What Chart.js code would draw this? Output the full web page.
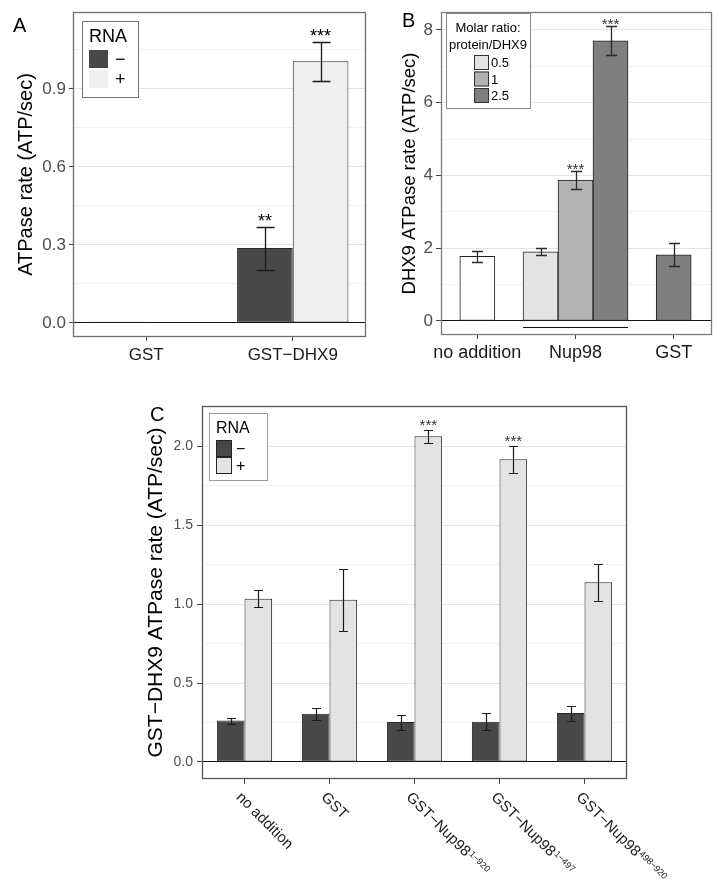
<!DOCTYPE html>
<html>
<head>
<meta charset="utf-8">
<script src="https://cdn.jsdelivr.net/npm/chart.js@4.4.1/dist/chart.umd.min.js"></script>
<style>
  html, body { margin:0; padding:0; background:#fff; }
  body { width:727px; height:887px; position:relative; overflow:hidden; font-family:"Liberation Sans", Arial, sans-serif; }
  canvas { position:absolute; }
  .panel-letter { position:absolute; font-size:20px; line-height:20px; color:#000; }
</style>
</head>
<body>
<canvas id="chartA" width="370" height="380" style="left:0;top:0"></canvas>
<canvas id="chartB" width="357" height="380" style="left:370px;top:0"></canvas>
<canvas id="chartC" width="587" height="507" style="left:140px;top:380px"></canvas>
<div class="panel-letter" style="left:13px;top:15px">A</div>
<div class="panel-letter" style="left:402px;top:10px">B</div>
<div class="panel-letter" style="left:150px;top:404px">C</div>
<script>
// ---------------- Panel A data ----------------
const aCategories = ['GST', 'GST\u2212DHX9'];
const aRnaLabels = ['\u2212', '+'];
const aMinus = [0.005, 0.288];
const aMinusLow = [null, 0.204];
const aMinusHigh = [null, 0.368];
const aPlus = [0.002, 1.007];
const aPlusLow = [null, 0.932];
const aPlusHigh = [null, 1.082];
const aMinusStars = ['', '**'];
const aPlusStars = ['', '***'];
const aYTicks = [0.0, 0.3, 0.6, 0.9];

// ---------------- Panel B data ----------------
const bCategories = ['no addition', 'Nup98', 'GST'];
const bRatioLabels = ['0.5', '1', '2.5'];
const bControl = [1.78, null, 1.82];
const bControlLow = [1.62, null, 1.51];
const bControlHigh = [1.93, null, 2.15];
const bRatio05 = [null, 1.90, null];
const bRatio05Low = [null, 1.81, null];
const bRatio05High = [null, 2.00, null];
const bRatio1 = [null, 3.87, null];
const bRatio1Low = [null, 3.62, null];
const bRatio1High = [null, 4.12, null];
const bRatio25 = [null, 7.70, null];
const bRatio25Low = [null, 7.31, null];
const bRatio25High = [null, 8.10, null];
const bRatio1Stars = ['', '***', ''];
const bRatio25Stars = ['', '***', ''];
const bYTicks = [0, 2, 4, 6, 8];

// ---------------- Panel C data ----------------
const cCategories = ['no addition', 'GST', 'GST\u2212Nup98', 'GST\u2212Nup98', 'GST\u2212Nup98'];
const cCategorySup = ['', '', '1\u2212920', '1\u2212497', '498\u2212920'];
const cRnaLabels = ['\u2212', '+'];
const cMinus = [0.262, 0.306, 0.253, 0.255, 0.310];
const cMinusLow = [0.243, 0.268, 0.205, 0.203, 0.262];
const cMinusHigh = [0.278, 0.344, 0.295, 0.308, 0.357];
const cPlus = [1.034, 1.027, 2.063, 1.918, 1.139];
const cPlusLow = [0.981, 0.831, 2.023, 1.833, 1.019];
const cPlusHigh = [1.089, 1.224, 2.105, 2.002, 1.257];
const cPlusStars = ['', '', '***', '***', ''];
const cYTicks = [0.0, 0.5, 1.0, 1.5, 2.0];

// ---------------- helpers ----------------
const FONT = '"Liberation Sans", Arial, sans-serif';
Chart.defaults.font.family = FONT;
Chart.defaults.animation = false;

function makeYScale(cfg) {
  const majors = cfg.ticks;
  const step = majors[1] - majors[0];
  const isMajor = v => majors.some(m => Math.abs(m - v) < 1e-9);
  return {
    type: 'linear', min: cfg.min, max: cfg.max,
    afterBuildTicks(scale) {
      const vals = majors.slice();
      majors.forEach(m => { const v = m + step / 2; if (v < cfg.max) vals.push(v); });
      vals.sort((a, b) => a - b);
      scale.ticks = vals.map(v => ({ value: v }));
    },
    afterFit(scale) { scale.width = cfg.width; },
    border: { display: false },
    grid: {
      drawTicks: true, tickLength: cfg.tickLength, lineWidth: 1,
      color: c => !c.tick ? 'rgba(0,0,0,0)' :
        (Math.abs(c.tick.value) < 1e-9 ? '#111' : (isMajor(c.tick.value) ? '#e4e4e4' : '#f2f2f2')),
      tickColor: c => (c.tick && isMajor(c.tick.value)) ? '#444' : 'rgba(0,0,0,0)'
    },
    ticks: {
      autoSkip: false, padding: cfg.padding, color: '#4d4d4d',
      font: { size: cfg.fontSize, lineHeight: 1 },
      callback: v => isMajor(v) ? v.toFixed(cfg.decimals) : ''
    },
    title: {
      display: true, text: cfg.title, color: '#000',
      font: { size: cfg.titleSize, lineHeight: 1.2 },
      padding: { top: cfg.titlePad, bottom: 0 }
    }
  };
}

const errorBars = {
  id: 'errorBars',
  afterDatasetsDraw(chart, args, o) {
    const ctx = chart.ctx, ys = chart.scales.y;
    ctx.save();
    chart.data.datasets.forEach((ds, di) => {
      if (!ds.errLow) return;
      const meta = chart.getDatasetMeta(di);
      meta.data.forEach((bar, i) => {
        const lo = ds.errLow[i], hi = ds.errHigh[i];
        if (lo == null || hi == null) return;
        const x = Math.round(bar.x) + 0.5;
        const yl = Math.round(ys.getPixelForValue(lo)) + 0.5;
        const yh = Math.round(ys.getPixelForValue(hi)) + 0.5;
        ctx.strokeStyle = o.color; ctx.lineWidth = o.lineWidth;
        ctx.beginPath();
        ctx.moveTo(x, yl); ctx.lineTo(x, yh);
        ctx.moveTo(x - o.cap / 2, yh); ctx.lineTo(x + o.cap / 2, yh);
        ctx.moveTo(x - o.cap / 2, yl); ctx.lineTo(x + o.cap / 2, yl);
        ctx.stroke();
        if (ds.stars && ds.stars[i]) {
          ctx.fillStyle = o.starColor;
          ctx.font = o.starSize + 'px ' + FONT;
          ctx.textAlign = 'center'; ctx.textBaseline = 'alphabetic';
          ctx.fillText(ds.stars[i], bar.x, yh + o.starDy);
        }
      });
    });
    ctx.restore();
  }
};

const framePlugin = {
  id: 'frame',
  afterDatasetsDraw(chart, args, o) {
    const { left, top, right, bottom } = chart.chartArea;
    const ctx = chart.ctx;
    ctx.save();
    ctx.strokeStyle = o.color; ctx.lineWidth = o.lineWidth;
    ctx.strokeRect(Math.round(left) + 0.5, Math.round(top) + 0.5, Math.round(right - left) - 1, Math.round(bottom - top) - 1);
    ctx.restore();
  }
};

const boxLegend = {
  id: 'boxLegend',
  afterDraw(chart, args, o) {
    const ctx = chart.ctx, ca = chart.chartArea;
    const x0 = Math.round(ca.left + o.x), y0 = Math.round(ca.top + o.y);
    ctx.save();
    ctx.fillStyle = '#fff'; ctx.fillRect(x0, y0, o.w, o.h);
    ctx.strokeStyle = o.borderColor; ctx.lineWidth = 1;
    ctx.strokeRect(x0 + 0.5, y0 + 0.5, o.w, o.h);
    ctx.fillStyle = '#000';
    ctx.font = o.titleSize + 'px ' + FONT;
    ctx.textBaseline = 'middle'; ctx.textAlign = o.titleAlign;
    o.title.forEach((t, i) => ctx.fillText(t, x0 + o.titleX, y0 + o.titleY + i * o.titleLineH));
    const items = chart.data.datasets.filter(d => d.inLegend !== false);
    items.forEach((d, i) => {
      const sy = y0 + o.itemY + i * o.itemStep;
      ctx.fillStyle = Array.isArray(d.backgroundColor) ? d.backgroundColor[0] : d.backgroundColor;
      ctx.fillRect(x0 + o.swX, sy, o.swW, o.swH);
      if (o.swBorder) {
        ctx.strokeStyle = o.swBorder; ctx.lineWidth = 1;
        ctx.strokeRect(x0 + o.swX + 0.5, sy + 0.5, o.swW - 1, o.swH - 1);
      }
      ctx.fillStyle = '#000';
      ctx.font = o.labelSize + 'px ' + FONT;
      ctx.textAlign = 'left'; ctx.textBaseline = 'middle';
      ctx.fillText(d.label, x0 + o.labelX, sy + o.swH / 2 + 1);
    });
    ctx.restore();
  }
};

const groupLine = {
  id: 'groupLine',
  afterDatasetsDraw(chart, args, o) {
    let x0 = Infinity, x1 = -Infinity;
    o.datasets.forEach(di => {
      const b = chart.getDatasetMeta(di).data[o.index];
      x0 = Math.min(x0, b.x - b.width / 2); x1 = Math.max(x1, b.x + b.width / 2);
    });
    const y = Math.round(chart.scales.y.getPixelForValue(0) + o.dy) + 0.5;
    const ctx = chart.ctx;
    ctx.save(); ctx.strokeStyle = '#111'; ctx.lineWidth = 1;
    ctx.beginPath(); ctx.moveTo(x0, y); ctx.lineTo(x1, y); ctx.stroke();
    ctx.restore();
  }
};

const rotLabels = {
  id: 'rotLabels',
  afterDraw(chart, args, o) {
    const ctx = chart.ctx, xs = chart.scales.x, ca = chart.chartArea;
    o.labels.forEach((lab, i) => {
      const px = xs.getPixelForValue(i);
      ctx.save();
      ctx.translate(px + o.dx, ca.bottom + o.dy);
      ctx.rotate(Math.PI / 4);
      ctx.fillStyle = '#1a1a1a';
      ctx.textAlign = 'left'; ctx.textBaseline = 'middle';
      ctx.font = o.size + 'px ' + FONT;
      ctx.fillText(lab, 0, 0);
      if (o.sup[i]) {
        const w = ctx.measureText(lab).width;
        ctx.font = o.supSize + 'px ' + FONT;
        ctx.fillText(o.sup[i], w + 1, o.supDy);
      }
      ctx.restore();
    });
  }
};

// ---------------- Chart A ----------------
new Chart(document.getElementById('chartA'), {
  type: 'bar',
  data: {
    labels: aCategories,
    datasets: [
      { label: aRnaLabels[0], data: aMinus, errLow: aMinusLow, errHigh: aMinusHigh, stars: aMinusStars,
        backgroundColor: '#484848', borderColor: '#262626', borderWidth: 1, borderSkipped: false,
        categoryPercentage: 0.76, barPercentage: 1 },
      { label: aRnaLabels[1], data: aPlus, errLow: aPlusLow, errHigh: aPlusHigh, stars: aPlusStars,
        backgroundColor: '#efefef', borderColor: '#262626', borderWidth: 1, borderSkipped: false,
        categoryPercentage: 0.76, barPercentage: 1 }
    ]
  },
  options: {
    responsive: false, animation: false, devicePixelRatio: 1,
    layout: { padding: { left: 0, right: 4, top: 12, bottom: 0 } },
    scales: {
      x: {
        type: 'category', offset: true,
        afterFit(s) { s.height = 43; },
        border: { display: false },
        grid: { drawOnChartArea: false, offset: false, drawTicks: true, tickLength: 4, tickColor: '#444' },
        ticks: { autoSkip: false, maxRotation: 0, minRotation: 0, padding: 4, color: '#1a1a1a', font: { size: 17 } }
      },
      y: makeYScale({ ticks: aYTicks, min: -0.054, max: 1.196, width: 73, tickLength: 4, padding: 3,
        fontSize: 17, decimals: 1, title: 'ATPase rate (ATP/sec)', titleSize: 20, titlePad: 14 })
    },
    plugins: {
      legend: { display: false }, tooltip: { enabled: false },
      errorBars: { color: '#1a1a1a', lineWidth: 1.3, cap: 18, starColor: '#000', starSize: 18, starDy: -1 },
      frame: { color: '#6e6e6e', lineWidth: 1.3 },
      boxLegend: { x: 9, y: 9, w: 56, h: 76, title: ['RNA'], titleSize: 18, titleAlign: 'left', titleX: 7, titleY: 16,
        titleLineH: 0, swX: 7, swW: 19, swH: 18, itemY: 29, itemStep: 20, labelX: 33, labelSize: 18,
        borderColor: '#777', swBorder: null }
    }
  },
  plugins: [errorBars, framePlugin, boxLegend]
});

// ---------------- Chart B ----------------
const toXY = arr => arr.map((v, i) => ({ x: i + 1, y: v }));
new Chart(document.getElementById('chartB'), {
  type: 'bar',
  data: {
    datasets: [
      { label: 'control', inLegend: false, data: toXY(bControl), errLow: bControlLow, errHigh: bControlHigh,
        backgroundColor: ['#ffffff', '#ffffff', '#7f7f7f'], borderColor: '#222', borderWidth: 1, borderSkipped: false,
        barThickness: 35, skipNull: true },
      { label: bRatioLabels[0], data: toXY(bRatio05), errLow: bRatio05Low, errHigh: bRatio05High,
        backgroundColor: '#e3e3e3', borderColor: '#222', borderWidth: 1, borderSkipped: false,
        barThickness: 35, skipNull: true },
      { label: bRatioLabels[1], data: toXY(bRatio1), errLow: bRatio1Low, errHigh: bRatio1High, stars: bRatio1Stars,
        backgroundColor: '#b2b2b2', borderColor: '#222', borderWidth: 1, borderSkipped: false,
        barThickness: 35, skipNull: true },
      { label: bRatioLabels[2], data: toXY(bRatio25), errLow: bRatio25Low, errHigh: bRatio25High, stars: bRatio25Stars,
        backgroundColor: '#7f7f7f', borderColor: '#222', borderWidth: 1, borderSkipped: false,
        barThickness: 35, skipNull: true }
    ]
  },
  options: {
    responsive: false, animation: false, devicePixelRatio: 1,
    layout: { padding: { left: 0, right: 15, top: 12, bottom: 0 } },
    scales: {
      x: {
        type: 'linear', min: 0.63, max: 3.39, offset: false,
        afterBuildTicks(scale) { scale.ticks = bCategories.map((c, i) => ({ value: i + 1 })); },
        afterFit(s) { s.height = 45; },
        border: { display: false },
        grid: { drawOnChartArea: false, offset: false, drawTicks: true, tickLength: 4, tickColor: '#444' },
        ticks: { autoSkip: false, maxRotation: 0, minRotation: 0, padding: 3, color: '#1a1a1a', font: { size: 18 },
          callback: v => bCategories[Math.round(v) - 1] || '' }
      },
      y: makeYScale({ ticks: bYTicks, min: -0.385, max: 8.49, width: 71, tickLength: 5, padding: 3,
        fontSize: 17, decimals: 0, title: 'DHX9 ATPase rate (ATP/sec)', titleSize: 18.5, titlePad: 29 })
    },
    plugins: {
      legend: { display: false }, tooltip: { enabled: false },
      errorBars: { color: '#2a2a2a', lineWidth: 1.3, cap: 11, starColor: '#333', starSize: 15, starDy: 2 },
      frame: { color: '#7a7a7a', lineWidth: 1.3 },
      groupLine: { index: 1, datasets: [1, 2, 3], dy: 6 },
      boxLegend: { x: 5, y: 1, w: 84, h: 95, title: ['Molar ratio:', 'protein/DHX9'], titleSize: 13, titleAlign: 'center',
        titleX: 42, titleY: 15, titleLineH: 17, swX: 28, swW: 15, swH: 15, itemY: 42, itemStep: 16.5, labelX: 45,
        labelSize: 13, borderColor: '#888', swBorder: '#333' }
    }
  },
  plugins: [errorBars, framePlugin, groupLine, boxLegend]
});

// ---------------- Chart C ----------------
new Chart(document.getElementById('chartC'), {
  type: 'bar',
  data: {
    labels: cCategories.map((c, i) => cCategorySup[i] ? c + ' ' + cCategorySup[i] : c),
    datasets: [
      { label: cRnaLabels[0], data: cMinus, errLow: cMinusLow, errHigh: cMinusHigh,
        backgroundColor: '#484848', borderColor: '#262626', borderWidth: 1, borderSkipped: false,
        categoryPercentage: 0.65, barPercentage: 1 },
      { label: cRnaLabels[1], data: cPlus, errLow: cPlusLow, errHigh: cPlusHigh, stars: cPlusStars,
        backgroundColor: '#e3e3e3', borderColor: '#262626', borderWidth: 1, borderSkipped: false,
        categoryPercentage: 0.65, barPercentage: 1 }
    ]
  },
  options: {
    responsive: false, animation: false, devicePixelRatio: 1,
    layout: { padding: { left: 0, right: 100, top: 26, bottom: 0 } },
    scales: {
      x: {
        type: 'category', offset: true,
        afterFit(s) { s.height = 108; },
        border: { display: false },
        grid: { drawOnChartArea: false, offset: false, drawTicks: true, tickLength: 5, tickColor: '#444' },
        ticks: { display: false }
      },
      y: makeYScale({ ticks: cYTicks, min: -0.108, max: 2.255, width: 62, tickLength: 5, padding: 4,
        fontSize: 14, decimals: 1, title: 'GST\u2212DHX9 ATPase rate (ATP/sec)', titleSize: 21, titlePad: 4 })
    },
    plugins: {
      legend: { display: false }, tooltip: { enabled: false },
      errorBars: { color: '#1a1a1a', lineWidth: 1.2, cap: 9, starColor: '#333', starSize: 15, starDy: -1 },
      frame: { color: '#555', lineWidth: 1.3 },
      boxLegend: { x: 7, y: 7, w: 58, h: 67, title: ['RNA'], titleSize: 16, titleAlign: 'left', titleX: 7, titleY: 16,
        titleLineH: 0, swX: 7, swW: 16, swH: 17, itemY: 27, itemStep: 17, labelX: 27, labelSize: 16,
        borderColor: '#999', swBorder: '#222' },
      rotLabels: { labels: cCategories, sup: cCategorySup, size: 15, supSize: 9, supDy: -3, dx: -6, dy: 16 }
    }
  },
  plugins: [errorBars, framePlugin, boxLegend, rotLabels]
});
</script>
</body>
</html>
